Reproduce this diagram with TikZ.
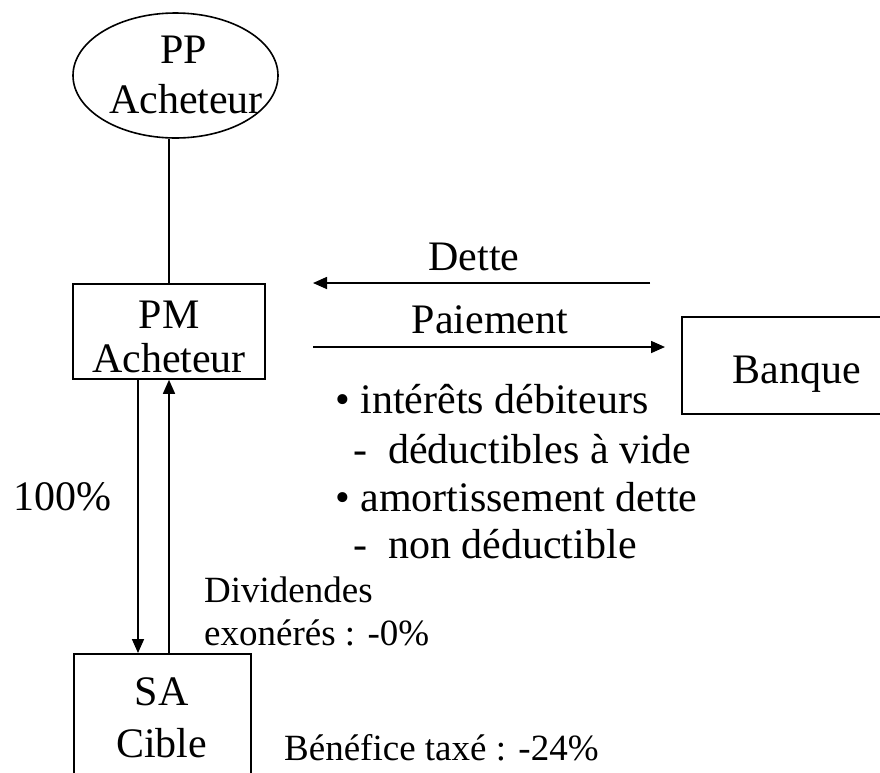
\documentclass[tikz,border=0pt]{standalone}
\usepackage{fontspec}
\setmainfont{Liberation Serif}
\usetikzlibrary{arrows.meta,shapes.geometric}

\tikzset{
  big/.style={font=\fontsize{42}{48}\selectfont, inner sep=0pt, anchor=base},
  small/.style={font=\fontsize{37}{42}\selectfont, inner sep=0pt, anchor=base west},
  boxed/.style={draw, line width=1.6pt, rectangle, inner sep=0pt},
  link/.style={line width=1.6pt},
  arr/.style={line width=1.6pt, -{Triangle[length=14pt,width=12pt]}}
}

\begin{document}
\begin{tikzpicture}[x=1pt, y=-1pt]
  \useasboundingbox (0,0) rectangle (880,772);
  \fill[white] (0,0) rectangle (880,772);
  \clip (0,0) rectangle (880,772);

  % owner (natural person)
  \node[draw, ellipse, line width=1.6pt, minimum width=205, minimum height=125, inner sep=0pt] (pp) at (175.5,75.5) {};
  \node[big] (pp1) at (184,63) {PP};
  \node[big] (pp2) at (186,113) {Acheteur};

  % holding company
  \node[boxed, minimum width=192, minimum height=95] (pm) at (169,331.5) {};
  \node[big] (pm1) at (169,328) {PM};
  \node[big] (pm2) at (169,372) {Acheteur};

  % target company (runs past the lower edge)
  \node[boxed, anchor=north west, minimum width=177, minimum height=160] (sa) at (73,653) {};
  \node[big] (sa1) at (161.5,705) {SA};
  \node[big] (sa2) at (161.5,757) {Cible};

  % bank (runs past the right edge)
  \node[boxed, anchor=north west, minimum width=240, minimum height=97] (bq) at (681,316) {};
  \node[big] (bq1) at (797,383) {Banque};

  % ownership link
  \draw[link] (pm.north |- pp.south) -- (pm.north);

  % flows between holding and target
  \coordinate (dtop) at ([xshift=-31pt]pm.south);
  \draw[arr] (dtop) -- (dtop |- sa.north);
  \draw[arr] (pm.south |- sa.north) -- (pm.south);

  % flows between holding and bank
  \coordinate (detteA) at (650,283);
  \coordinate (detteB) at (313,283);
  \coordinate (paieA) at (313,347);
  \coordinate (paieB) at (665,347);
  \draw[arr] (detteA) -- (detteB);
  \draw[arr] (paieA) -- (paieB);
  \node[big] (dette) at (474,270) {Dette};
  \node[big] (paie) at (490,333) {Paiement};

  % notes on the loan
  \node[big, anchor=base west] (n1) at (335,413) {• intérêts débiteurs};
  \node[big, anchor=base west] (n2) at (353,463) {-\hspace{21pt}déductibles à vide};
  \node[big, anchor=base west] (n3) at (335,511) {• amortissement dette};
  \node[big, anchor=base west] (n4) at (353,558) {-\hspace{21pt}non déductible};

  % labels
  \node[big, anchor=base west] (pct) at (13,510) {100\%};
  \node[small] (div1) at (204,602) {Dividendes};
  \node[small] (div2) at (204,645) {exonérés : -0\%};
  \node[small] (benef) at (284,760) {Bénéfice taxé : -24\%};
\end{tikzpicture}
\end{document}
